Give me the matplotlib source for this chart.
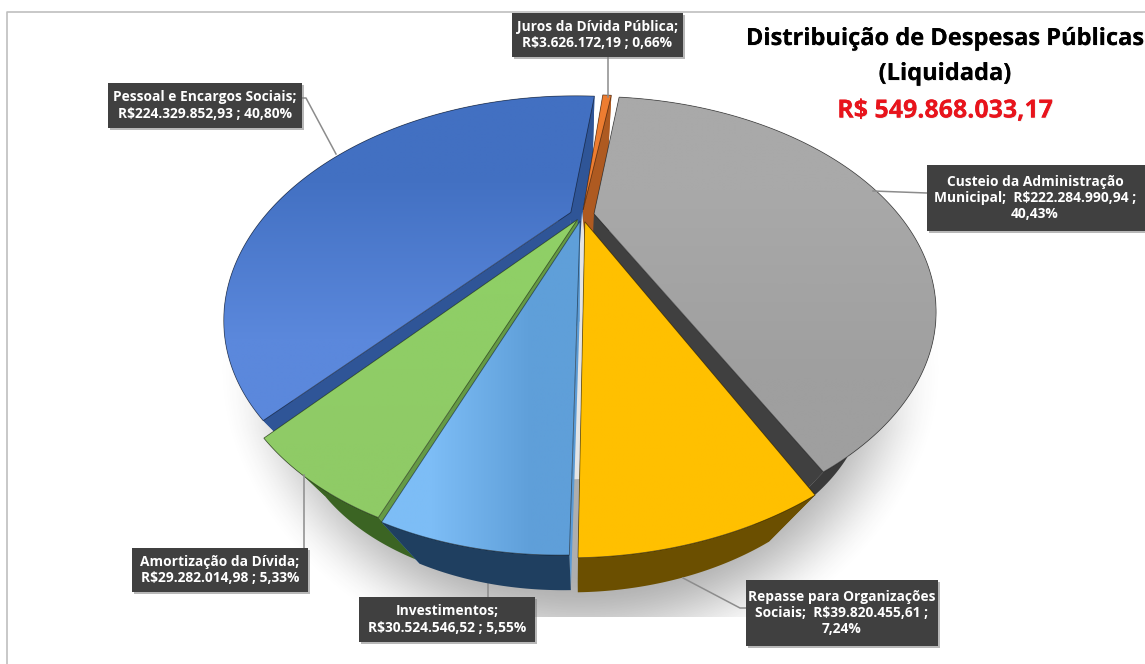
#!/usr/bin/env python3
"""
Distribuição de Despesas Públicas - pizza 3D explodida em perspectiva
"""

import numpy as np
import matplotlib
matplotlib.use('Agg')
import matplotlib.pyplot as plt
import matplotlib.patheffects as pe
from matplotlib.patches import Polygon, Rectangle
from matplotlib.colors import to_rgb

# dados (ordem do gráfico, sentido horário a partir de Custeio)
categorias = ['Custeio', 'Repasse', 'Investimentos', 'Amortização', 'Pessoal', 'Juros']
valores = [222284990.94, 39820455.61, 30524546.52, 29282014.98, 224329852.93, 3626172.19]

titulo = ['Distribuição de Despesas Públicas', '(Liquidada)']
total = 'R$ 549.868.033,17'

rotulos = {
    'Custeio': 'Custeio da Administração\nMunicipal;  R$222.284.990,94 ;\n40,43%',
    'Repasse': 'Repasse para Organizações\nSociais;  R$39.820.455,61 ;\n7,24%',
    'Investimentos': 'Investimentos;\nR$30.524.546,52 ; 5,55%',
    'Amortização': 'Amortização da Dívida;\nR$29.282.014,98 ; 5,33%',
    'Pessoal': 'Pessoal e Encargos Sociais;\nR$224.329.852,93 ; 40,80%',
    'Juros': 'Juros da Dívida Pública;\nR$3.626.172,19 ; 0,66%',
}

# estilo de cada fatia: explosão, raio, cor topo início/fim, direção, parede radial, parede externa
estilo = {
    'Custeio': (0.040, 1.0, '#A9A9A9', '#9F9F9F', 'v', '#404040', '#3A3A3A'),
    'Repasse': (0.040, 1.0, '#FFC000', '#FFC000', 'v', '#6B4F00', '#6B4F00'),
    'Investimentos': (0.035, 1.0, '#7DBDF6', '#5F9FD9', 'h', '#5B9BD5', '#1F3F60'),
    'Amortização': (0.030, 1.0, '#8FCF66', '#8FCB66', 'v', '#659A45', '#3B6423'),
    'Pessoal': (0.040, 1.0, '#4270C2', '#5B88DC', 'v', '#2F5597', '#2F5597'),
    'Juros': (0.030, 1.0, '#ED7D31', '#ED7D31', 'v', '#AE5A21', '#AE5A21'),
}
ordem_desenho = ['Pessoal', 'Juros', 'Custeio', 'vao', 'Amortização', 'Repasse', 'Investimentos']

# caixas dos rótulos (x0, y0, x1, y1) e linhas de chamada, em pixels
caixas = {
    'Custeio': (927, 165, 1147, 231),
    'Repasse': (746, 580, 938, 646),
    'Investimentos': (359, 597, 535, 642),
    'Amortização': (132, 548, 308, 592),
    'Pessoal': (108, 83, 302, 128),
    'Juros': (512, 13, 683, 57),
}
chamadas = {
    'Custeio': [(873, 191), (927, 193)],
    'Repasse': [(683, 578), (740, 608), (746, 608)],
    'Investimentos': [(488, 581), (488, 597)],
    'Amortização': [(304, 475), (304, 548)],
    'Pessoal': [(302, 98), (306, 98), (336, 154)],
    'Juros': [(608, 57), (608, 97)],
}

# projeção em perspectiva do plano da pizza
CX, CY = 582, 215
K, R, S = 0.46, 305, 172.3
CISALHA = -0.024
CURVA = -9e-5
NADIR = np.array([577, 735])
T = 0.195
INICIO = 7.5
FONTE = 'Open Sans'


def project(u, v):
    w = 1 + K * v
    y = CY - S * v / w
    return np.column_stack([CX + R * u / w + CISALHA * (y - CY) + CURVA * (y - CY) ** 2, y])


def lower(pts):
    return pts + T * (NADIR - pts)


def gradiente(ax, poly, c0, c1, direcao, z):
    x0, y0 = poly.min(axis=0)
    x1, y1 = poly.max(axis=0)
    a, b = to_rgb(c0), to_rgb(c1)
    img = np.array([[a], [b]]) if direcao == 'v' else np.array([[a, b]])
    im = ax.imshow(img, extent=(x0, x1, y1, y0), origin='upper', aspect='auto',
                   interpolation='bilinear', zorder=z)
    clip = Polygon(poly, closed=True, transform=ax.transData)
    im.set_clip_path(clip)


fig = plt.figure(figsize=(11.45, 6.64), dpi=100)
fig.patch.set_facecolor('white')
ax = fig.add_axes([0, 0, 1, 1])
ax.axis('off')

# moldura
ax.plot([7, 7, 1145], [664, 12, 12], color='#BFBFBF', lw=1.2, zorder=1)

# sombra sob a pizza
xx, yy = np.meshgrid(np.arange(0, 1145), np.arange(150, 617))
d = np.sqrt(((xx - 580) / 350.0) ** 2 + ((yy - 350) / 310.0) ** 2)
alfa = np.clip((1.05 - d) / 0.32, 0, 1)
alfa = alfa * alfa * (3 - 2 * alfa) * 0.42 * np.clip((yy - 300) / 130.0, 0, 1)
sombra = np.zeros(xx.shape + (4,))
sombra[..., :3] = 0.25
sombra[..., 3] = alfa
ax.imshow(sombra, extent=(0, 1145, 617, 150), origin='upper', aspect='auto', zorder=2)

# limites angulares a partir dos valores
angulos = np.array(valores) / sum(valores) * 360
fim = INICIO + np.cumsum(angulos)
ini = fim - angulos
limites = {c: (ini[i], fim[i]) for i, c in enumerate(categorias)}

z = 10
for cat in ordem_desenho:
    if cat == 'vao':
        # vão claro entre Repasse e Investimentos
        b = limites['Repasse'][1]
        t = np.radians(np.array([b - 4, b + 1.5]))
        ext = project(np.sin(t) * 0.9, np.cos(t) * 0.9)
        ax.add_patch(Polygon(np.vstack([project(np.array([0.0]), np.array([0.02])), ext]), closed=True,
                             facecolor='#E4E4E4', edgecolor='none', zorder=z))
        z += 1
        continue
    ex, raio, c0, c1, direcao, radial, externa = estilo[cat]
    a0, a1 = limites[cat]
    meio = np.radians((a0 + a1) / 2)
    ou, ov = ex * np.sin(meio), ex * np.cos(meio)
    t = np.radians(np.linspace(a0, a1, 200))
    aro = project(raio * np.sin(t) + ou, raio * np.cos(t) + ov)
    apice = project(np.array([ou]), np.array([ov]))

    # paredes radiais
    for ponta in (aro[0], aro[-1]):
        topo = np.vstack([apice, ponta])
        ax.add_patch(Polygon(np.vstack([topo, lower(topo)[::-1]]), closed=True,
                             facecolor=radial, edgecolor='none', zorder=z))
    # parede externa
    base = lower(aro)
    ax.add_patch(Polygon(np.vstack([aro, base[::-1]]), closed=True,
                         facecolor=externa, edgecolor='none', zorder=z + 1))
    # topo
    topo = np.vstack([apice, aro])
    gradiente(ax, topo, c0, c1, direcao, z + 2)
    ax.add_patch(Polygon(topo, closed=True, fill=False, edgecolor='#00000080', lw=0.6, zorder=z + 3))
    z += 4

# rótulos
for cat, (x0, y0, x1, y1) in caixas.items():
    pts = np.array(chamadas[cat])
    ax.plot(pts[:, 0], pts[:, 1], color='#8C8C8C', lw=1.1, zorder=5 if cat == 'Investimentos' else 60)
    ax.add_patch(Rectangle((x0 + 2, y0 + 2), x1 - x0, y1 - y0, facecolor='#7F7F7F',
                           alpha=0.55, edgecolor='none', zorder=61))
    ax.add_patch(Rectangle((x0, y0), x1 - x0, y1 - y0, facecolor='#404040',
                           edgecolor='none', zorder=62))
    xc = (x0 + min(x1, 1143)) / 2
    ax.text(xc, (y0 + y1) / 2, rotulos[cat], color='white', ha='center', va='center',
            fontsize=9.9, fontweight='bold', family=FONTE, linespacing=1.22, zorder=63)

# título
sombra_txt = [pe.withSimplePatchShadow(offset=(0.5, -0.5), shadow_rgbFace='#BBBBBB', alpha=0.35), pe.Normal()]
ax.text(945, 39, titulo[0], ha='center', va='center', fontsize=17, fontweight='bold',
        family=FONTE, color='black', path_effects=sombra_txt, zorder=70)
ax.text(945, 74, titulo[1], ha='center', va='center', fontsize=17, fontweight='bold',
        family=FONTE, color='black', path_effects=sombra_txt, zorder=70)
ax.text(945, 111, total, ha='center', va='center', fontsize=18, fontweight='bold',
        family=FONTE, color='#E8141C', path_effects=sombra_txt, zorder=70)

ax.set_xlim(0, 1145)
ax.set_ylim(664, 0)
fig.savefig('out.png', dpi=100, facecolor='white')
